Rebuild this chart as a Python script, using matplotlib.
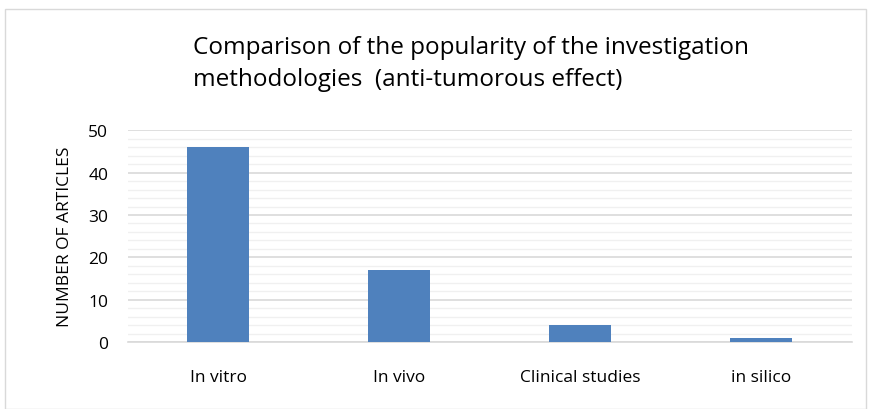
import matplotlib.pyplot as plt
from matplotlib.patches import Rectangle

categories = ['In vitro', 'In vivo', 'Clinical studies', 'in silico']
articles = [46, 17, 4, 1]

plt.rcParams['font.family'] = ['Open Sans', 'DejaVu Sans']

fig = plt.figure(figsize=(8.69, 4.10), dpi=100)
ax = fig.add_axes([0.147, 0.163, 0.833, 0.517])

x = list(range(len(categories)))
ax.bar(x, articles, width=0.34, color='#4f81bd', zorder=3)

ax.set_xlim(-0.5, len(categories) - 0.5)
ax.set_ylim(0, 50)
ax.set_yticks(range(0, 51, 10))
ax.set_yticks(range(0, 51, 2), minor=True)
ax.grid(axis='y', which='major', color='#d9d9d9', linewidth=1.2, zorder=0)
ax.grid(axis='y', which='minor', color='#f0f0f0', linewidth=1.0, zorder=0)
ax.tick_params(axis='both', which='both', length=0, labelsize=12.5, colors='black')
ax.tick_params(axis='x', pad=19)
ax.tick_params(axis='y', pad=14)
ax.set_xticks(x)
ax.set_xticklabels(categories)

for s in ['top', 'right', 'left']:
    ax.spines[s].set_visible(False)
ax.spines['bottom'].set_color('#d9d9d9')
ax.spines['bottom'].set_linewidth(1.2)

ax.set_ylabel('NUMBER OF ARTICLES', fontsize=12.5, labelpad=11)

fig.text(0.222, 0.883, 'Comparison of the popularity of the investigation',
         fontsize=17.5, ha='left', va='center')
fig.text(0.222, 0.805, 'methodologies  (anti-tumorous effect)',
         fontsize=17.5, ha='left', va='center')

fig.patches.append(Rectangle((0.006, 0.0), 0.99, 0.975, transform=fig.transFigure,
                             fill=False, edgecolor='#d9d9d9', linewidth=1))

fig.savefig('out.png', dpi=100)
